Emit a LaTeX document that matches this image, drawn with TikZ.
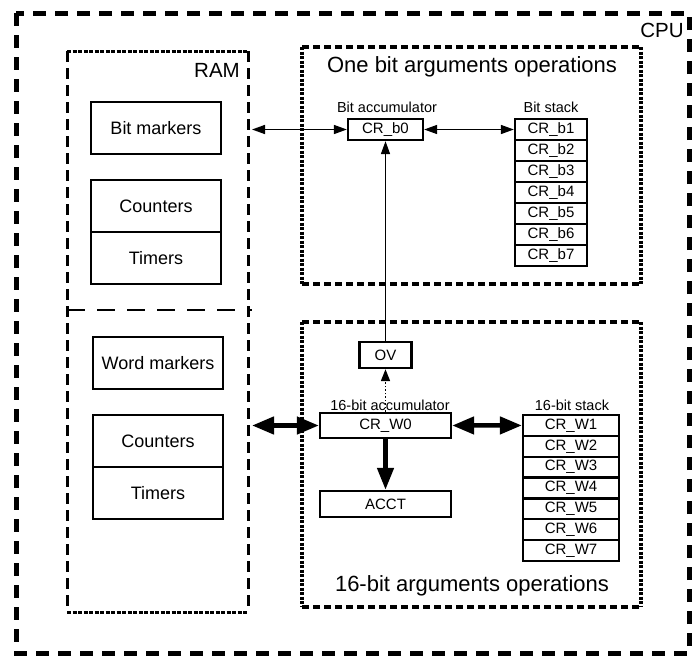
\documentclass[tikz,border=0pt]{standalone}
\usepackage{fontspec}
\setmainfont{Liberation Sans}
\usetikzlibrary{arrows.meta,calc}
\begin{document}
\begin{tikzpicture}[x=1pt,y=-1pt,
  area/.style={inner sep=0pt,outer sep=0pt,draw=none},
  cell/.style={draw,line width=2.3pt,inner sep=0pt,font=\fontsize{15}{15}\selectfont},
  membox/.style={draw,line width=2.3pt,inner sep=0pt,minimum width=130pt,minimum height=52pt,font=\fontsize{18}{18}\selectfont},
  smalllabel/.style={inner sep=0pt,font=\fontsize{14.5}{14.5}\selectfont},
  titlelabel/.style={inner sep=0pt,font=\fontsize{22}{22}\selectfont},
  biglabel/.style={inner sep=0pt,font=\fontsize{20.5}{20.5}\selectfont},
  cpuedge/.style={line width=5pt,dash pattern=on 13pt off 9pt},
  ramside/.style={line width=3pt,dash pattern=on 11pt off 6pt},
  ramtb/.style={line width=3pt,dash pattern=on 4pt off 1.5pt},
  ramsplit/.style={line width=2.3pt,dash pattern=on 18pt off 12pt},
  optb/.style={line width=3.3pt,dash pattern=on 7pt off 4pt},
  opside/.style={line width=3.3pt,dash pattern=on 3pt off 1.5pt},
  thinarrow/.style={line width=1.5pt,arrows={Triangle[length=13pt,width=9pt]-Triangle[length=13pt,width=9pt]}},
  thickarrow/.style={line width=4.5pt,arrows={Triangle[length=22pt,width=17pt]-Triangle[length=22pt,width=17pt]}},
  thickone/.style={line width=4.5pt,arrows={-Triangle[length=22pt,width=16pt]}},
  dotarrow/.style={line width=1.5pt,dotted,arrows={-Triangle[length=12pt,width=9pt]}},
  uparrow/.style={line width=1.5pt,arrows={-Triangle[length=13pt,width=9pt]}}
]
\useasboundingbox (0,0) rectangle (699,659);

% CPU
\node[area,minimum width=673pt,minimum height=640pt] (cpu) at (352.5,333) {};
\draw[cpuedge] (cpu.north west) rectangle (cpu.south east);
\node[biglabel] (cpulbl) at (662,30) {CPU};

% RAM
\node[area,minimum width=181pt,minimum height=561pt] (ram) at (157.5,331.5) {};
\draw[ramside] (ram.north west) -- (ram.south west);
\draw[ramside] (ram.north east) -- (ram.south east);
\draw[ramtb] (ram.north west) -- (ram.north east);
\draw[ramtb] (ram.south west) -- (ram.south east);
\coordinate (splitL) at (67,310);
\coordinate (splitR) at (252,310);
\draw[ramsplit] (splitL) -- (splitR);
\node[biglabel] (ramlbl) at (217,70) {RAM};

\node[membox] (bitm) at (156,128) {Bit markers};
\node[membox] (cnt1) at (156,206) {Counters};
\node[membox] (tim1) at (156,258) {Timers};
\node[membox] (wordm) at (158,363) {Word markers};
\node[membox] (cnt2) at (158,441) {Counters};
\node[membox] (tim2) at (158,493) {Timers};

% One bit operations
\node[area,minimum width=339pt,minimum height=237pt] (onebit) at (471.5,165.5) {};
\draw[optb] (onebit.north west) -- (onebit.north east);
\draw[optb] (onebit.south west) -- (onebit.south east);
\draw[opside] (onebit.north west) -- (onebit.south west);
\draw[opside] (onebit.north east) -- (onebit.south east);
\node[titlelabel] (onebitlbl) at (472,67) {One bit arguments operations};

\node[smalllabel] (bacclbl) at (387,107) {Bit accumulator};
\node[cell,minimum width=75pt,minimum height=21pt] (b0) at (385.5,129.5) {CR\_b0};
\node[smalllabel] (bstklbl) at (551,107) {Bit stack};
\foreach \i in {1,...,7} {
  \node[cell,minimum width=72pt,minimum height=21pt] (b\i) at (551,{108.5+21*\i}) {CR\_b\i};
}

% 16-bit operations
\node[area,minimum width=339pt,minimum height=285pt] (wordop) at (471.5,464.5) {};
\draw[optb] (wordop.north west) -- (wordop.north east);
\draw[optb] (wordop.south west) -- (wordop.south east);
\draw[opside] (wordop.north west) -- (wordop.south west);
\draw[opside] (wordop.north east) -- (wordop.south east);
\node[titlelabel] (wordoplbl) at (472,586) {16-bit arguments operations};

\node[cell,minimum width=52pt,minimum height=26pt] (ov) at (385.5,355) {OV};
\node[smalllabel] (wacclbl) at (390,405) {16-bit accumulator};
\node[cell,minimum width=131pt,minimum height=25pt] (w0) at (385.5,425.5) {CR\_W0};
\node[cell,minimum width=131pt,minimum height=26pt] (acct) at (385.5,504) {ACCT};
\node[smalllabel] (wstklbl) at (572,405) {16-bit stack};
\foreach \i in {1,...,7} {
  \node[cell,minimum width=96pt,minimum height=20.86pt] (w\i) at (571,{404.57+20.86*\i}) {CR\_W\i};
}

% connectors
\coordinate (ramA) at ($(ram.east |- b0.west)+(4,0)$);
\draw[thinarrow] (ramA) -- (b0.west);
\draw[thinarrow] (b0.east) -- (b1.west);
\draw[uparrow] (ov.north) -- (b0.south);
\draw[dotarrow] (w0.north) -- (ov.south);
\coordinate (ramB) at ($(ram.east |- w0.west)+(4,0)$);
\draw[thickarrow] (ramB) -- (w0.west);
\draw[thickarrow] (w0.east) -- (w1.west);
\draw[thickone] (w0.south) -- (acct.north);
\end{tikzpicture}
\end{document}
